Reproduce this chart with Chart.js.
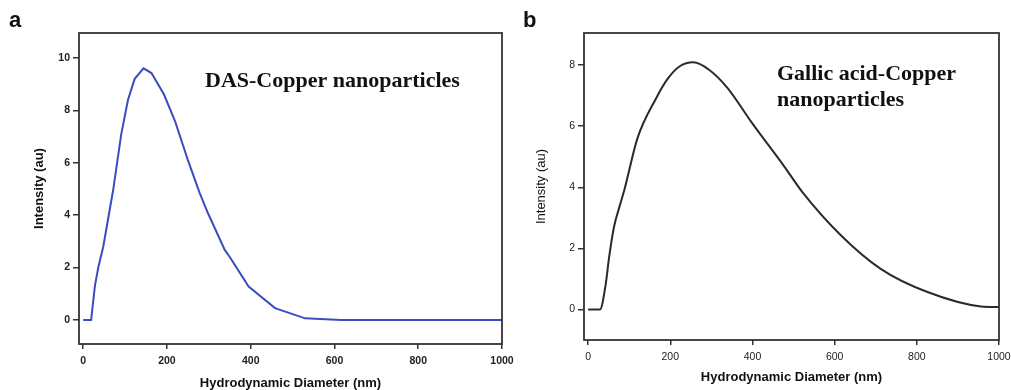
<!DOCTYPE html>
<html>
<head>
<meta charset="utf-8">
<script src="https://cdn.jsdelivr.net/npm/chart.js@4.4.1/dist/chart.umd.min.js"></script>
<style>
  html, body { margin: 0; padding: 0; background: #fff; }
  #wrap { position: relative; width: 1011px; height: 390px; overflow: hidden; }
  .panel { position: absolute; top: 0; height: 390px; }
  #panelA { left: 0; width: 518px; }
  #panelB { left: 518px; width: 493px; }
</style>
</head>
<body>
<div id="wrap">
  <div class="panel" id="panelA"><canvas id="dasPlot"></canvas></div>
  <div class="panel" id="panelB"><canvas id="gallicPlot"></canvas></div>
</div>
<script>
'use strict';

// panel a: DAS-Copper nanoparticles
const dasDiameter = [0, 19, 28, 36, 48, 60, 72, 91, 107, 123, 144, 163, 193, 219, 250, 278, 298, 338, 350, 395, 458, 530, 615, 1000];
const dasIntensity = [0, 0, 1.3, 2.0, 2.8, 3.9, 5.0, 7.1, 8.4, 9.2, 9.6, 9.42, 8.6, 7.6, 6.1, 4.85, 4.07, 2.67, 2.4, 1.27, 0.45, 0.06, 0, 0];

// panel b: Gallic acid-Copper nanoparticles
const gallicDiameter = [0, 29, 43, 51, 63, 76, 88, 120, 165, 193, 224, 256, 295, 340, 397, 478, 521, 615, 712, 826, 956, 1000];
const gallicIntensity = [0, 0, 0.84, 1.7, 2.7, 3.35, 3.9, 5.6, 6.9, 7.54, 7.97, 8.09, 7.84, 7.24, 6.14, 4.67, 3.85, 2.43, 1.33, 0.57, 0.1, 0.08];

// tick labels
const xTickValues = [0, 200, 400, 600, 800, 1000];
const dasYTicks = [0, 2, 4, 6, 8, 10];
const gallicYTicks = [0, 2, 4, 6, 8];
const xAxisTitle = "Hydrodynamic Diameter (nm)";
const yAxisTitle = "Intensity (au)";

const SANS = "'Liberation Sans', Arial, sans-serif";
const SERIF = "'Liberation Serif', 'Times New Roman', serif";
const AXIS_COLOR = "#333333";

// box round the plot area, panel letter and the in-plot caption
const panelDecor = {
    id: "panelDecor",
    afterDraw(chart, args, opts) {
        const {ctx, chartArea} = chart;
        ctx.save();
        ctx.strokeStyle = AXIS_COLOR;
        ctx.lineWidth = 1.8;
        ctx.strokeRect(chartArea.left, chartArea.top,
            chartArea.right - chartArea.left, chartArea.bottom - chartArea.top);

        ctx.fillStyle = "#111";
        ctx.textBaseline = "alphabetic";
        ctx.textAlign = "left";
        ctx.font = "bold 22px " + SANS;
        ctx.fillText(opts.letter, opts.letterX, 27);

        ctx.font = "bold 22px " + SERIF;
        opts.caption.forEach((line, i) => {
            ctx.fillText(line, opts.captionX, opts.captionY + i * 26);
        });
        ctx.restore();
    }
};

const fixedTicks = (values) => (scale) => {
    scale.ticks = values.map((v) => ({value: v}));
};

function makeChart(canvasId, xs, ys, cfg) {
    const ctx = document.getElementById(canvasId).getContext("2d");
    const tickFont = {family: SANS, size: 10.5, weight: cfg.boldTicks ? "bold" : "normal"};
    return new Chart(ctx, {
        type: "scatter",
        data: {
            datasets: [
                {
                    data: xs.map((x, i) => ({x: x, y: ys[i]})),
                    showLine: true,
                    borderColor: cfg.color,
                    borderWidth: 2,
                    pointRadius: 0,
                    tension: 0,
                    cubicInterpolationMode: cfg.smooth ? "monotone" : "default",
                },
            ],
        },
        options: {
            responsive: true,
            maintainAspectRatio: false,
            animation: false,
            layout: {
                padding: {top: 33, right: cfg.padRight, left: 0, bottom: 0},
            },
            scales: {
                x: {
                    type: "linear",
                    min: -10,
                    max: 1000,
                    afterBuildTicks: fixedTicks(xTickValues),
                    afterFit: (scale) => {
                        scale.height = cfg.xHeight;
                        scale.paddingLeft = 0;
                        scale.paddingRight = 0;
                    },
                    border: {display: false},
                    grid: {
                        drawOnChartArea: false,
                        drawTicks: true,
                        tickLength: 5,
                        color: AXIS_COLOR,
                        lineWidth: 1.5,
                    },
                    ticks: {
                        maxRotation: 0,
                        autoSkip: false,
                        padding: 6,
                        color: "#222",
                        font: tickFont,
                        callback: (v) => String(v),
                    },
                    title: {
                        display: true,
                        text: xAxisTitle,
                        color: "#111",
                        font: {family: SANS, size: 13, weight: "bold"},
                        padding: {top: 0, bottom: cfg.xTitlePad},
                    },
                },
                y: {
                    type: "linear",
                    min: cfg.yMin,
                    max: cfg.yMax,
                    afterBuildTicks: fixedTicks(cfg.yTicks),
                    afterFit: (scale) => {
                        scale.width = cfg.yWidth;
                        scale.paddingTop = 0;
                        scale.paddingBottom = 0;
                    },
                    border: {display: false},
                    grid: {
                        drawOnChartArea: false,
                        drawTicks: true,
                        tickLength: 6,
                        color: AXIS_COLOR,
                        lineWidth: 1.5,
                    },
                    ticks: {
                        autoSkip: false,
                        padding: 3,
                        color: "#222",
                        font: tickFont,
                        callback: (v) => String(v),
                    },
                    title: {
                        display: true,
                        text: yAxisTitle,
                        color: "#111",
                        font: {family: SANS, size: 13, weight: cfg.boldTicks ? "bold" : "normal"},
                        padding: {top: cfg.yTitlePad, bottom: 0},
                    },
                },
            },
            plugins: {
                legend: {display: false},
                tooltip: {enabled: false},
                panelDecor: cfg.decor,
            },
        },
        plugins: [panelDecor],
    });
}

const dasPlot = makeChart("dasPlot", dasDiameter, dasIntensity, {
    color: "#3b4cc0",
    smooth: false,
    boldTicks: true,
    yMin: -0.92,
    yMax: 10.95,
    yTicks: dasYTicks,
    yWidth: 79,
    xHeight: 46,
    padRight: 16,
    xTitlePad: -1,
    yTitlePad: 32,
    decor: {letter: "a", letterX: 9, caption: ["DAS-Copper nanoparticles"], captionX: 205, captionY: 87},
});

const gallicPlot = makeChart("gallicPlot", gallicDiameter, gallicIntensity, {
    color: "#2a2a2a",
    smooth: true,
    boldTicks: false,
    yMin: -1.0,
    yMax: 9.05,
    yTicks: gallicYTicks,
    yWidth: 66,
    xHeight: 50,
    padRight: 12,
    xTitlePad: 5,
    yTitlePad: 16,
    decor: {letter: "b", letterX: 5, caption: ["Gallic acid-Copper", "nanoparticles"], captionX: 259, captionY: 80},
});
</script>
</body>
</html>
